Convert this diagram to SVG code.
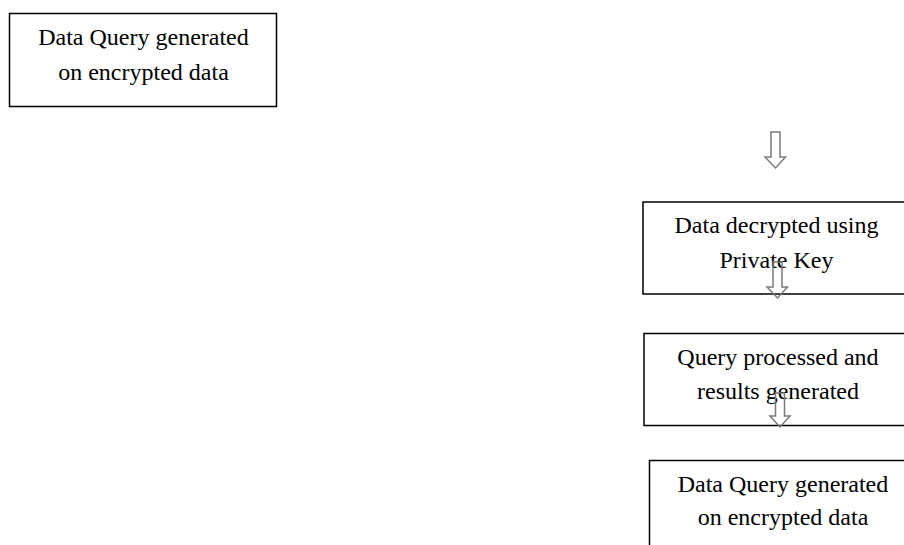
<svg xmlns="http://www.w3.org/2000/svg" width="904" height="545" viewBox="0 0 904 545">
<style>
.box{fill:#fff;stroke:#000;stroke-width:1.5}
.t{font-family:"Liberation Serif","Times New Roman",serif;font-size:24px;fill:#000;text-anchor:middle}
.arr{fill:none;stroke:#7a7a7a;stroke-width:1.5;stroke-linejoin:miter}
</style>
<rect width="904" height="545" fill="#fff"/>
<g id="n1">
<rect class="box" x="9.5" y="13.5" width="267" height="93"/>
<text class="t" x="143.5" y="45">Data Query generated</text>
<text class="t" x="143.5" y="80">on encrypted data</text>
</g>
<g id="n2">
<rect class="box" x="643" y="202" width="268" height="92"/>
<text class="t" x="776.5" y="233">Data decrypted using</text>
<text class="t" x="776.5" y="268">Private Key</text>
</g>
<g id="n3">
<rect class="box" x="644" y="333.5" width="268" height="92"/>
<text class="t" x="778" y="365">Query processed and</text>
<text class="t" x="778" y="399">results generated</text>
</g>
<g id="n4">
<rect class="box" x="649.5" y="460.5" width="268" height="93"/>
<text class="t" x="783" y="492">Data Query generated</text>
<text class="t" x="783" y="525">on encrypted data</text>
</g>
<g id="connectors">
<path class="arr" d="M771 132 H780 V157 H785.5 L775.5 168 L765 157 H771 Z"/>
<path class="arr" d="M773 262 H782 V287 H787.5 L777.5 298 L767 287 H773 Z"/>
<path class="arr" d="M775.5 393 H784.5 V416 H790 L780 427 L770 416 H775.5 Z"/>
</g>
</svg>
